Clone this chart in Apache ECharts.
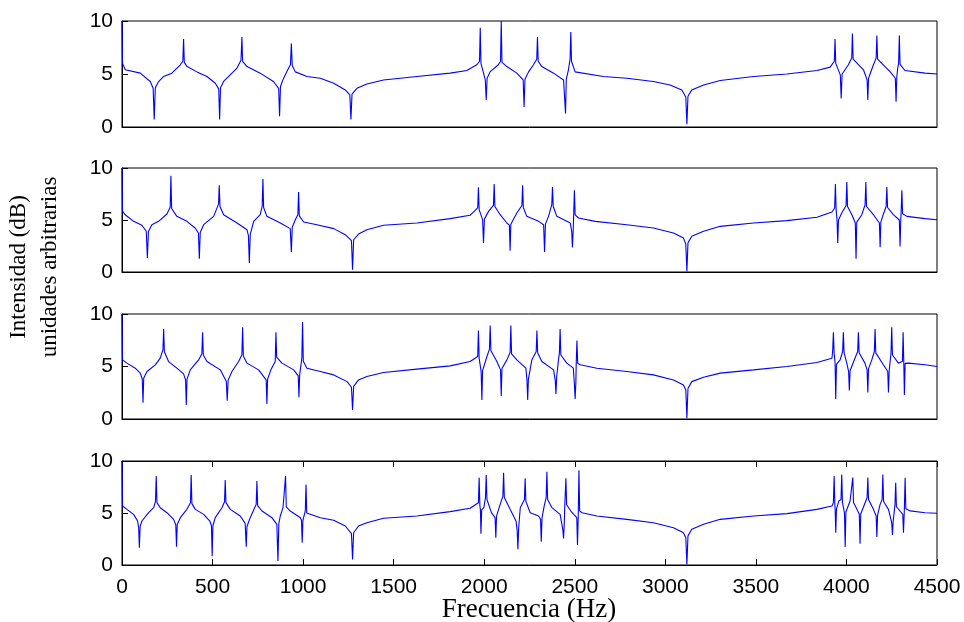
<!DOCTYPE html>
<html>
<head>
<meta charset="utf-8">
<script src="https://cdn.jsdelivr.net/npm/echarts@6/dist/echarts.min.js"></script>
<style>
  html, body { margin: 0; padding: 0; background: #fff; }
  #chart { width: 964px; height: 622px; }
</style>
</head>
<body>
<div id="chart"></div>
<script>
// Frequency ticks (Hz) and intensity ticks
const FREQ_MIN = 0;
const FREQ_MAX = 4500;
const FREQ_STEP = 500;
const DB_MIN = 0;
const DB_MAX = 10;
const DB_STEP = 5;

// [frecuencia Hz, intensidad], top to bottom
const panel1 = [
  [0,10],[3,6.0],[18,5.4],[101,5.08],[156,4.29],[172,3.65],[178,0.7],[184,3.7],[202,4.29],[229,4.76],[275,5.08],[322,5.87],
  [336,6.2],[340,8.3],[344,6.1],[359,5.7],[414,5.2],[469,4.76],[515,4.13],[534,3.6],[539,0.7],[544,3.7],[561,4.3],[607,5.08],
  [635,5.56],[657,6.3],[662,8.5],[666,6.2],[690,5.7],[763,5.08],[836,4.29],[865,3.65],[870,1.02],[875,3.8],[888,4.44],[920,5.56],
  [930,5.87],[935,7.87],[940,5.8],[957,5.2],[1021,4.76],[1095,4.6],[1169,4.13],[1233,3.5],[1258,3.03],[1264,0.7],[1270,3.1],
  [1297,3.65],[1352,4.06],[1444,4.44],[1628,4.76],[1812,5.08],[1904,5.33],[1959,5.87],[1974,6.2],[1978,9.37],[1982,6.0],
  [2006,4.44],[2011,2.54],[2016,4.6],[2032,5.2],[2078,5.87],[2090,6.2],[2094,10],[2098,6.1],[2125,5.7],[2180,5.08],[2215,4.44],
  [2220,1.9],[2225,4.5],[2245,5.2],[2272,5.87],[2290,6.4],[2294,8.5],[2298,6.2],[2318,5.7],[2383,5.08],[2438,4.44],[2445,4.3],
  [2449,1.27],[2453,4.5],[2465,5.4],[2474,6.4],[2478,8.95],[2482,6.2],[2502,5.2],[2658,4.76],[2787,4.6],[2934,4.29],[3026,3.97],
  [3091,3.5],[3113,2.83],[3119,0.26],[3125,2.9],[3146,3.5],[3211,3.97],[3303,4.38],[3487,4.76],[3671,5.0],[3837,5.33],[3910,5.65],
  [3933,6.2],[3937,8.3],[3941,6.0],[3966,4.92],[3971,2.7],[3976,5.0],[4011,5.87],[4029,6.5],[4033,8.83],[4037,6.4],[4094,5.4],
  [4114,4.44],[4118,2.54],[4122,4.6],[4149,5.87],[4164,6.5],[4168,8.64],[4172,6.4],[4242,5.2],[4270,4.6],[4274,2.38],[4278,4.7],
  [4283,5.56],[4288,6.0],[4292,8.64],[4296,5.9],[4323,5.33],[4434,5.08],[4500,5.0]
];

const panel2 = [
  [0,10],[3,5.83],[18,5.5],[64,4.87],[110,4.5],[134,3.92],[140,1.35],[146,3.9],[165,4.55],[202,4.87],[248,5.58],[266,6.22],
  [270,9.26],[274,6.1],[303,5.35],[358,4.87],[404,4.23],[422,3.75],[427,1.28],[432,3.8],[451,4.55],[506,5.35],[533,6.53],
  [537,8.33],[541,6.3],[561,5.51],[635,4.71],[690,4.07],[698,3.5],[703,0.87],[708,3.6],[727,4.87],[763,5.51],[774,6.3],
  [778,8.94],[782,6.2],[800,5.35],[874,4.71],[929,4.17],[935,1.92],[940,4.3],[957,5.03],[971,5.51],[975,7.69],[979,5.4],
  [1003,4.81],[1076,4.55],[1169,4.17],[1233,3.59],[1267,3.01],[1273,0.22],[1279,3.1],[1306,3.65],[1352,4.07],[1444,4.49],
  [1628,4.71],[1812,5.13],[1922,5.45],[1964,6.16],[1968,8.14],[1972,6.0],[1991,5.03],[1996,2.78],[2001,5.1],[2024,5.83],
  [2051,6.4],[2055,8.46],[2059,6.3],[2088,5.51],[2125,4.71],[2139,4.5],[2143,2.05],[2147,4.6],[2180,5.67],[2208,6.4],
  [2212,8.33],[2216,6.2],[2235,5.35],[2300,4.87],[2328,4.55],[2333,1.92],[2338,4.6],[2355,5.35],[2373,6.47],[2377,8.17],
  [2381,6.3],[2401,5.35],[2475,4.71],[2483,3.9],[2487,2.37],[2491,3.9],[2494,5.5],[2498,7.85],[2502,5.5],[2521,5.19],
  [2613,4.87],[2787,4.55],[2934,4.23],[3045,3.75],[3100,3.27],[3113,2.68],[3119,0.06],[3125,2.8],[3146,3.43],[3211,3.91],
  [3303,4.39],[3487,4.71],[3671,4.94],[3837,5.26],[3920,5.77],[3935,6.15],[3939,8.46],[3943,6.0],[3948,5.0],[3952,2.78],
  [3956,5.0],[3974,5.67],[3998,6.4],[4002,8.65],[4006,6.3],[4030,5.51],[4049,4.71],[4053,1.28],[4057,4.8],[4085,5.51],
  [4103,6.47],[4107,8.65],[4111,6.3],[4149,5.51],[4182,4.71],[4186,2.37],[4190,4.8],[4204,5.58],[4219,6.3],[4223,8.17],
  [4227,6.2],[4259,5.51],[4292,5.0],[4296,2.46],[4300,5.0],[4302,5.8],[4306,7.85],[4310,5.6],[4334,5.35],[4434,5.13],[4500,5.03]
];

const panel3 = [
  [0,10],[3,5.63],[27,5.32],[73,4.84],[101,4.37],[112,3.79],[116,1.56],[120,3.9],[138,4.52],[184,5.16],[211,5.8],[226,6.59],
  [230,8.57],[234,6.4],[257,5.47],[303,4.84],[340,4.3],[351,3.72],[355,1.33],[359,3.8],[377,4.68],[423,5.63],[441,6.21],
  [445,8.26],[449,6.1],[469,5.47],[543,4.68],[576,3.56],[581,1.75],[586,3.7],[607,4.52],[644,5.47],[662,6.11],[666,8.73],
  [670,6.0],[690,5.32],[754,4.68],[796,3.72],[800,1.43],[804,3.8],[822,4.68],[846,5.47],[850,8.26],[854,5.9],[883,5.32],
  [948,4.68],[973,4.1],[977,2.07],[981,4.2],[993,5.79],[997,9.24],[1001,5.5],[1021,4.84],[1095,4.52],[1169,4.2],[1243,3.56],
  [1267,3.02],[1273,0.86],[1279,3.1],[1306,3.72],[1352,4.04],[1444,4.43],[1628,4.75],[1812,5.06],[1922,5.47],[1964,5.95],
  [1968,8.43],[1972,5.8],[1983,4.5],[1987,1.81],[1991,4.6],[2015,5.95],[2029,6.65],[2033,8.91],[2037,6.5],[2070,5.47],
  [2090,4.68],[2094,2.2],[2098,4.8],[2125,5.63],[2143,6.33],[2147,8.91],[2151,6.2],[2180,5.63],[2230,4.84],[2236,3.7],
  [2240,1.81],[2244,3.8],[2263,5.63],[2287,6.43],[2291,8.43],[2295,6.3],[2318,5.47],[2383,4.68],[2392,3.7],[2396,2.39],
  [2400,4.0],[2410,5.63],[2415,6.27],[2419,8.57],[2423,6.1],[2456,5.32],[2492,4.84],[2498,3.3],[2502,1.9],[2506,3.5],
  [2508,5.3],[2512,7.48],[2516,5.3],[2530,5.16],[2622,4.84],[2787,4.52],[2934,4.2],[3045,3.72],[3100,3.24],[3113,2.76],
  [3119,0.07],[3125,2.9],[3146,3.56],[3211,3.98],[3303,4.37],[3487,4.68],[3671,5.0],[3837,5.38],[3920,5.79],[3924,6.5],
  [3928,8.26],[3932,6.3],[3937,5.4],[3941,1.9],[3945,5.2],[3965,5.63],[3979,6.43],[3983,8.26],[3987,6.3],[4002,5.32],
  [4012,4.52],[4016,2.72],[4020,4.6],[4047,5.79],[4062,6.43],[4066,8.26],[4070,6.3],[4102,5.32],[4114,4.68],[4118,2.53],
  [4122,4.8],[4140,5.63],[4154,6.43],[4158,8.57],[4162,6.3],[4204,5.16],[4228,4.52],[4232,2.53],[4236,4.6],[4246,6.27],
  [4250,8.73],[4254,6.1],[4287,5.32],[4309,5.5],[4313,8.26],[4317,5.0],[4320,2.29],[4324,5.3],[4342,5.32],[4434,5.16],[4500,5.0]
];

const panel4 = [
  [0,10],[3,5.67],[27,5.35],[64,4.87],[86,4.23],[92,3.59],[96,1.67],[100,3.7],[110,4.23],[147,5.03],[175,5.51],[185,6.15],
  [189,8.55],[193,6.0],[211,5.51],[248,5.03],[285,4.39],[297,3.84],[301,1.76],[305,3.9],[322,4.55],[358,5.35],[378,5.99],
  [382,8.65],[386,5.9],[405,5.35],[451,4.87],[485,4.23],[494,3.75],[498,0.87],[502,3.8],[515,4.55],[552,5.51],[566,6.09],
  [570,8.17],[574,6.0],[598,5.35],[653,4.71],[680,4.0],[686,1.76],[690,3.7],[708,4.55],[730,5.4],[741,5.83],[745,8.07],
  [749,5.7],[773,5.19],[828,4.55],[855,3.9],[861,0.38],[866,4.0],[874,4.71],[889,5.51],[899,5.67],[903,8.55],[907,5.6],
  [929,5.19],[985,4.55],[991,4.3],[995,2.15],[999,4.3],[1012,5.2],[1016,7.75],[1020,5.0],[1030,4.87],[1095,4.55],[1169,4.3],
  [1233,3.75],[1267,3.01],[1273,0.54],[1279,3.1],[1306,3.75],[1352,4.07],[1444,4.49],[1628,4.71],[1812,5.13],[1922,5.45],
  [1968,5.99],[1972,8.4],[1976,5.7],[1979,5.3],[1982,3.01],[1986,5.3],[1998,5.51],[2007,6.47],[2011,8.65],[2015,6.3],
  [2040,5.03],[2060,4.55],[2064,2.62],[2068,4.7],[2088,5.83],[2103,6.63],[2107,8.87],[2111,6.5],[2143,5.35],[2176,4.2],
  [2182,3.3],[2186,1.51],[2190,3.5],[2199,5.51],[2222,6.3],[2226,8.33],[2230,6.1],[2254,5.03],[2300,4.71],[2311,4.39],
  [2315,2.24],[2319,4.5],[2331,5.67],[2342,6.47],[2346,8.97],[2350,6.3],[2374,5.51],[2419,4.87],[2434,3.4],[2438,2.56],
  [2442,4.0],[2445,5.83],[2451,8.33],[2455,5.8],[2478,5.19],[2511,4.55],[2515,1.92],[2519,4.6],[2523,9.1],[2527,5.2],
  [2540,5.03],[2622,4.71],[2787,4.39],[2934,4.07],[3045,3.59],[3100,3.11],[3113,2.62],[3119,0.06],[3125,2.8],[3146,3.43],
  [3211,3.91],[3303,4.39],[3487,4.71],[3671,4.94],[3837,5.35],[3920,5.67],[3928,6.0],[3932,8.55],[3936,5.8],[3938,5.2],
  [3941,3.11],[3945,5.4],[3958,6.15],[3970,6.3],[3974,8.71],[3978,6.0],[3989,5.03],[3993,1.73],[3997,5.1],[4020,6.15],
  [4031,6.3],[4035,8.4],[4039,6.0],[4058,5.35],[4071,4.87],[4075,2.05],[4079,4.9],[4103,5.99],[4114,6.47],[4118,8.4],
  [4122,6.3],[4149,5.35],[4164,4.71],[4168,2.69],[4172,4.8],[4186,5.83],[4197,6.3],[4201,8.71],[4205,6.1],[4232,5.35],
  [4250,4.07],[4254,2.88],[4258,4.2],[4268,5.83],[4272,7.91],[4276,5.6],[4296,5.19],[4311,4.87],[4315,3.11],[4319,5.0],
  [4320,5.5],[4324,8.4],[4328,5.4],[4352,5.2],[4434,5.03],[4500,4.97]
];

const panels = [panel1, panel2, panel3, panel4];
const X_TITLE = 'Frecuencia (Hz)';
const Y_TITLE = 'Intensidad (dB)\nunidades arbitrarias';

// pixel boxes of the four subplots
const gridTops = [21, 168, 314, 461];
const gridHeights = [106, 104, 105, 104];

const LABEL_FONT = {
  color: '#000',
  fontFamily: 'Liberation Sans, Arial, sans-serif',
  fontSize: 21
};
const SERIF = 'Liberation Serif, Times New Roman, serif';

const chart = echarts.init(document.getElementById('chart'), null, { renderer: 'canvas' });

const grid = gridTops.map((top, i) => ({
  left: 122,
  right: 27,
  top,
  height: gridHeights[i],
  show: true,
  borderColor: '#000',
  borderWidth: 1,
  backgroundColor: '#fff'
}));

const plainNumber = (v) => String(v);

const xAxis = [];
const yAxis = [];
panels.forEach((_, i) => {
  const last = i === panels.length - 1;
  xAxis.push({
    gridIndex: i,
    type: 'value',
    min: FREQ_MIN,
    max: FREQ_MAX,
    interval: FREQ_STEP,
    axisLine: { show: true, lineStyle: { color: '#000', width: 1 } },
    axisTick: { show: last, inside: true, length: 6, lineStyle: { color: '#000' } },
    axisLabel: { show: last, margin: 12, formatter: plainNumber, ...LABEL_FONT },
    splitLine: { show: false }
  });
  yAxis.push({
    gridIndex: i,
    type: 'value',
    min: DB_MIN,
    max: DB_MAX,
    interval: DB_STEP,
    axisLine: { show: true, lineStyle: { color: '#000', width: 1 } },
    axisTick: { show: true, inside: true, length: 6, lineStyle: { color: '#000' } },
    axisLabel: { margin: 9, formatter: plainNumber, ...LABEL_FONT },
    splitLine: { show: false }
  });
});
// ticks on the top edge of the bottom panel
xAxis.push({
  gridIndex: 3,
  type: 'value',
  position: 'top',
  min: FREQ_MIN,
  max: FREQ_MAX,
  interval: FREQ_STEP,
  axisLine: { show: true, lineStyle: { color: '#000', width: 1 } },
  axisTick: { show: true, inside: true, length: 6, lineStyle: { color: '#000' } },
  axisLabel: { show: false },
  splitLine: { show: false }
});

const series = panels.map((data, i) => ({
  type: 'line',
  xAxisIndex: i,
  yAxisIndex: i,
  data,
  showSymbol: false,
  symbol: 'none',
  clip: true,
  lineStyle: { color: '#0000ff', width: 1.1 },
  emphasis: { disabled: true }
}));

const option = {
  animation: false,
  backgroundColor: '#fff',
  grid,
  xAxis,
  yAxis,
  series,
  graphic: [
    {
      type: 'text',
      x: 529,
      y: 610,
      style: {
        text: X_TITLE,
        align: 'center',
        verticalAlign: 'middle',
        fill: '#000',
        fontFamily: SERIF,
        fontSize: 27
      }
    },
    {
      type: 'text',
      x: 34,
      y: 267,
      rotation: Math.PI / 2,
      style: {
        text: Y_TITLE,
        align: 'center',
        verticalAlign: 'middle',
        lineHeight: 31,
        fill: '#000',
        fontFamily: SERIF,
        fontSize: 23
      }
    }
  ]
};

chart.setOption(option);
</script>
</body>
</html>
